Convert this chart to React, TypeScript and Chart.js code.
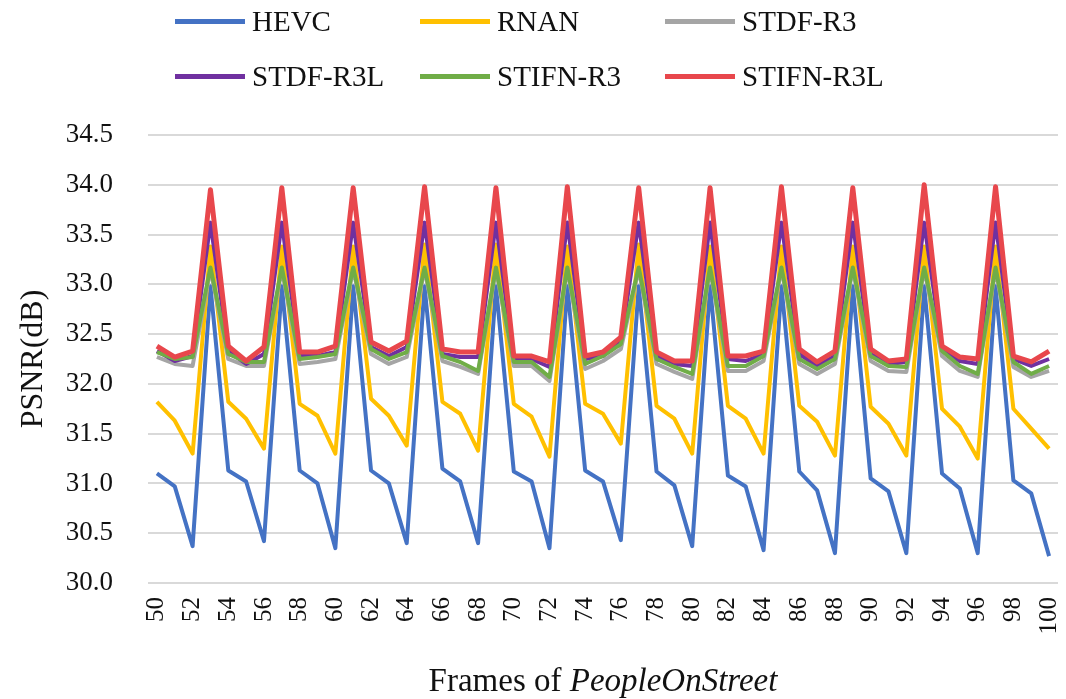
import React, { useEffect, useRef } from "react";
import { Chart, registerables } from "chart.js";

Chart.register(...registerables);

const frames: number[] = [
  50, 51, 52, 53, 54, 55, 56, 57, 58, 59, 60, 61, 62, 63, 64, 65, 66, 67, 68, 69,
  70, 71, 72, 73, 74, 75, 76, 77, 78, 79, 80, 81, 82, 83, 84, 85, 86, 87, 88, 89,
  90, 91, 92, 93, 94, 95, 96, 97, 98, 99, 100,
];

const hevc: number[] = [
  31.10, 30.97, 30.37, 32.98, 31.13, 31.02, 30.42, 32.98, 31.13, 31.00,
  30.35, 32.98, 31.13, 31.00, 30.40, 32.98, 31.15, 31.02, 30.40, 32.98,
  31.12, 31.02, 30.35, 32.98, 31.13, 31.02, 30.43, 32.98, 31.12, 30.98,
  30.37, 32.98, 31.08, 30.97, 30.33, 32.98, 31.12, 30.93, 30.30, 32.98,
  31.05, 30.92, 30.30, 32.98, 31.10, 30.95, 30.30, 32.98, 31.03, 30.90,
  30.27,
];

const rnan: number[] = [
  31.82, 31.63, 31.30, 33.38, 31.82, 31.65, 31.35, 33.38, 31.80, 31.68,
  31.30, 33.38, 31.85, 31.68, 31.38, 33.40, 31.82, 31.70, 31.33, 33.40,
  31.80, 31.67, 31.27, 33.38, 31.80, 31.70, 31.40, 33.40, 31.78, 31.65,
  31.30, 33.38, 31.78, 31.65, 31.30, 33.38, 31.78, 31.62, 31.28, 33.38,
  31.77, 31.60, 31.28, 33.38, 31.75, 31.57, 31.25, 33.38, 31.75, 31.55,
  31.35,
];

const stdfR3: number[] = [
  32.27, 32.20, 32.18, 33.15, 32.25, 32.18, 32.18, 33.15, 32.20, 32.22,
  32.25, 33.15, 32.30, 32.20, 32.27, 33.15, 32.23, 32.17, 32.10, 33.15,
  32.18, 32.18, 32.03, 33.15, 32.15, 32.23, 32.35, 33.15, 32.20, 32.12,
  32.05, 33.15, 32.13, 32.13, 32.23, 33.15, 32.20, 32.10, 32.20, 33.15,
  32.23, 32.13, 32.12, 33.15, 32.28, 32.13, 32.07, 33.15, 32.17, 32.07,
  32.13,
];

const stdfR3L: number[] = [
  32.33, 32.23, 32.28, 33.62, 32.33, 32.20, 32.30, 33.62, 32.28, 32.28,
  32.32, 33.62, 32.37, 32.28, 32.37, 33.62, 32.30, 32.27, 32.27, 33.62,
  32.25, 32.25, 32.17, 33.62, 32.25, 32.28, 32.43, 33.62, 32.28, 32.20,
  32.18, 33.62, 32.25, 32.23, 32.30, 33.62, 32.30, 32.18, 32.28, 33.62,
  32.30, 32.20, 32.22, 33.62, 32.35, 32.23, 32.20, 33.62, 32.25, 32.18,
  32.25,
];

const stifnR3: number[] = [
  32.32, 32.25, 32.27, 33.17, 32.30, 32.22, 32.22, 33.17, 32.25, 32.27,
  32.30, 33.17, 32.35, 32.25, 32.32, 33.17, 32.28, 32.22, 32.13, 33.17,
  32.22, 32.22, 32.07, 33.17, 32.20, 32.28, 32.40, 33.17, 32.25, 32.17,
  32.10, 33.17, 32.18, 32.18, 32.28, 33.17, 32.25, 32.15, 32.25, 33.17,
  32.28, 32.18, 32.17, 33.17, 32.33, 32.18, 32.10, 33.17, 32.22, 32.10,
  32.18,
];

const stifnR3L: number[] = [
  32.38, 32.27, 32.33, 33.95, 32.38, 32.23, 32.37, 33.97, 32.32, 32.32,
  32.38, 33.97, 32.42, 32.33, 32.43, 33.98, 32.35, 32.32, 32.32, 33.97,
  32.28, 32.28, 32.22, 33.98, 32.28, 32.32, 32.47, 33.97, 32.32, 32.23,
  32.23, 33.97, 32.28, 32.28, 32.33, 33.98, 32.35, 32.22, 32.33, 33.97,
  32.35, 32.23, 32.25, 34.00, 32.38, 32.27, 32.25, 33.98, 32.28, 32.22,
  32.33,
];

const seriesNames: string[] = ["HEVC", "RNAN", "STDF-R3", "STDF-R3L", "STIFN-R3", "STIFN-R3L"];
const seriesColors: string[] = ["#4472C4", "#FFC000", "#A5A5A5", "#7030A0", "#70AD47", "#E8474C"];
const seriesData: number[][] = [hevc, rnan, stdfR3, stdfR3L, stifnR3, stifnR3L];

const yTickMin = 30;
const yTickMax = 34.5;
const yTickStep = 0.5;

const FONT = '"Liberation Serif", "Times New Roman", serif';

export default function App() {
  const canvasRef = useRef<HTMLCanvasElement | null>(null);

  useEffect(() => {
    const canvas = canvasRef.current;
    if (!canvas) return;
    const chart = new Chart(canvas, {
      type: "line",
      data: {
        labels: frames.map(String),
        datasets: seriesNames.map((name, i) => ({
          label: name,
          data: seriesData[i],
          borderColor: seriesColors[i],
          backgroundColor: seriesColors[i],
          borderWidth: i === 5 ? 5 : 4,
          pointRadius: 0,
          tension: 0,
          fill: false,
          borderJoinStyle: "round" as const,
          order: seriesNames.length - i,
        })),
      },
      options: {
        animation: false,
        responsive: false,
        devicePixelRatio: 1,
        layout: { padding: { top: 135, left: 0, right: 8, bottom: 0 } },
        plugins: {
          legend: { display: false },
          tooltip: { enabled: false },
          title: { display: false },
        },
        scales: {
          x: {
            type: "category",
            offset: true,
            grid: { display: false, drawTicks: false },
            border: { display: false },
            ticks: {
              autoSkip: false,
              minRotation: 90,
              maxRotation: 90,
              padding: 14,
              color: "#111",
              font: { family: FONT, size: 25 },
              callback: (_v: any, idx: number) => (idx % 2 === 0 ? String(frames[idx]) : ""),
            },
            afterFit: (scale: any) => {
              scale.height = 116;
              scale.paddingLeft = 0;
              scale.paddingRight = 0;
            },
          },
          y: {
            min: yTickMin,
            max: yTickMax,
            grid: { color: "#D9D9D9", lineWidth: 2, drawTicks: false },
            border: { display: false },
            ticks: {
              stepSize: yTickStep,
              padding: 35,
              color: "#111",
              font: { family: FONT, size: 27 },
              callback: (v: any) => Number(v).toFixed(1),
            },
            title: {
              display: true,
              text: "PSNR(dB)",
              color: "#111",
              font: { family: FONT, size: 32 },
              padding: { top: 14, bottom: 0 },
            },
            afterFit: (scale: any) => {
              scale.width = 148;
            },
          },
        },
      },
    });
    return () => chart.destroy();
  }, []);

  const legendItems = seriesNames.map((name, i) => {
    const col = i % 3;
    const row = Math.floor(i / 3);
    const cy = 21 + row * 55;
    return (
      <React.Fragment key={name}>
        <div
          style={{
            position: "absolute",
            left: 175 + col * 245,
            top: cy - 2.5,
            width: 70,
            height: 5,
            background: seriesColors[i],
          }}
        />
        <div
          style={{
            position: "absolute",
            left: 252 + col * 245,
            top: cy - 18,
            height: 36,
            lineHeight: "36px",
            fontFamily: FONT,
            fontSize: 29,
            color: "#111",
            whiteSpace: "nowrap",
          }}
        >
          {name}
        </div>
      </React.Fragment>
    );
  });

  return (
    <div style={{ position: "absolute", left: 0, top: 0, width: 1066, height: 699, background: "#fff", overflow: "hidden" }}>
      <canvas ref={canvasRef} width={1066} height={699} style={{ position: "absolute", left: 0, top: 0, display: "block" }} />
      {legendItems}
      <div
        style={{
          position: "absolute",
          left: 148,
          width: 910,
          top: 660,
          height: 40,
          lineHeight: "40px",
          textAlign: "center",
          fontFamily: FONT,
          fontSize: 33,
          color: "#111",
          whiteSpace: "nowrap",
        }}
      >
        Frames of <i>PeopleOnStreet</i>
      </div>
    </div>
  );
}
